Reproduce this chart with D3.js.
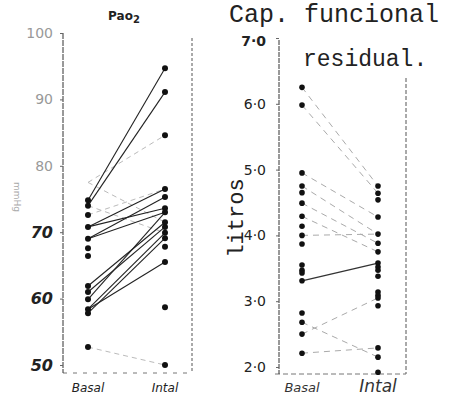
<!DOCTYPE html>
<html>
<head>
<meta charset="utf-8">
<script src="https://cdn.jsdelivr.net/npm/d3@7"></script>
<style>
  body { margin: 0; background: #fff; }
  svg { display: block; }
</style>
</head>
<body>
<div id="chart"></div>
<script>
// ---- data ----
var groups = ["Basal", "Intal"];

// Pao2 (mmHg)
var paoTicks = [100, 90, 80, 70, 60, 50];
var paoBasal = [74.8, 74.0, 72.6, 70.8, 69.0, 67.6, 66.4, 61.9, 61.0, 59.9, 58.4, 57.8, 52.7];
var paoIntal = [94.7, 91.1, 84.6, 76.5, 75.3, 73.6, 73.0, 71.5, 70.8, 69.9, 69.1, 67.8, 65.5, 58.7, 50.0];
var paoSolid = [[74.8, 94.7], [74.0, 91.1], [70.8, 76.5], [70.8, 73.6], [69.0, 75.3], [69.0, 73.0],
                [61.9, 71.5], [61.0, 70.8], [59.9, 73.0], [58.4, 69.9], [57.8, 69.1], [58.4, 65.5]];
var paoFaint = [[77.5, 84.6], [72.6, 76.5], [77.5, 71.5], [52.7, 50.0], [74.0, 69.9]];

// Capacidad funcional residual (litros)
var frcTicks = [7, 6, 5, 4, 3, 2];
var frcBasal = [6.25, 5.98, 4.95, 4.75, 4.65, 4.49, 4.29, 4.14, 4.0, 3.87, 3.55, 3.47, 3.43, 3.31, 2.82, 2.68, 2.5, 2.21];
var frcIntal = [4.75, 4.64, 4.54, 4.28, 4.02, 3.88, 3.75, 3.58, 3.52, 3.47, 3.38, 3.14, 3.09, 3.05, 2.93, 2.29, 2.15, 1.92];
var frcSolid = [[3.31, 3.58]];
var frcFaint = [[6.25, 4.75], [5.98, 4.64], [4.95, 4.28], [4.75, 4.02], [4.49, 3.88], [4.29, 3.75],
                [2.5, 3.05], [2.21, 2.29], [2.68, 2.15], [4.0, 4.02]];

var width = 452, height = 401;

var svg = d3.select("#chart")
  .append("svg")
    .attr("width", width)
    .attr("height", height);

// ---------- left panel: Pao2 ----------
var yL = d3.scaleLinear().domain([50, 100]).range([365, 33]);
var xL = d3.scalePoint().domain(groups).range([88, 165]);

var left = svg.append("g");

// frame (dotted, like the scan)
left.append("line").attr("x1", 192).attr("x2", 192).attr("y1", 38).attr("y2", 373)
  .style("stroke", "#555").style("stroke-width", 1).style("stroke-dasharray", "3,2");
left.append("line").attr("x1", 63).attr("x2", 192).attr("y1", 373).attr("y2", 373)
  .style("stroke", "#777").style("stroke-width", 1).style("stroke-dasharray", "4,6");

var axL = left.append("g")
  .attr("transform", "translate(63,0)")
  .call(d3.axisLeft(yL).tickValues(paoTicks).tickSize(3).tickPadding(7).tickFormat(d3.format("d")));
axL.select(".domain").attr("d", "M0,33V373").style("stroke", "#333").style("stroke-dasharray", "6,1");
axL.selectAll(".tick line").style("stroke", "#666");
axL.selectAll(".tick text")
  .style("font-family", "DejaVu Sans")
  .style("font-size", function(d) { return d >= 80 ? "14px" : "16px"; })
  .style("font-style", function(d) { return d >= 80 ? "normal" : "italic"; })
  .style("font-weight", function(d) { return d >= 80 ? "normal" : "bold"; })
  .style("fill", function(d) { return d >= 80 ? "#999" : "#222"; });

left.selectAll("line.faint")
  .data(paoFaint).enter().append("line")
  .attr("class", "faint")
  .attr("x1", xL("Basal")).attr("x2", xL("Intal"))
  .attr("y1", function(d) { return yL(d[0]); })
  .attr("y2", function(d) { return yL(d[1]); })
  .style("stroke", "#bbb").style("stroke-width", 1).style("stroke-dasharray", "5,4");

left.selectAll("line.solid")
  .data(paoSolid).enter().append("line")
  .attr("class", "solid")
  .attr("x1", xL("Basal")).attr("x2", xL("Intal"))
  .attr("y1", function(d) { return yL(d[0]); })
  .attr("y2", function(d) { return yL(d[1]); })
  .style("stroke", "#222").style("stroke-width", 1.1);

left.selectAll("circle.b")
  .data(paoBasal).enter().append("circle")
  .attr("class", "b")
  .attr("cx", xL("Basal")).attr("cy", function(d) { return yL(d); }).attr("r", 3)
  .style("fill", "#111");
left.selectAll("circle.i")
  .data(paoIntal).enter().append("circle")
  .attr("class", "i")
  .attr("cx", xL("Intal")).attr("cy", function(d) { return yL(d); }).attr("r", 3)
  .style("fill", "#111");

left.selectAll("text.cat")
  .data(groups).enter().append("text")
  .attr("class", "cat")
  .attr("x", function(d) { return xL(d); }).attr("y", 392)
  .attr("text-anchor", "middle")
  .text(function(d) { return d; })
  .style("font-family", "DejaVu Sans").style("font-style", "italic")
  .style("font-size", "12px").style("fill", "#222");

var t = left.append("text").attr("x", 124).attr("y", 20).attr("text-anchor", "middle")
  .style("font-family", "DejaVu Sans").style("font-size", "12px").style("font-weight", "bold").style("fill", "#222");
t.append("tspan").text("Pao");
t.append("tspan").attr("dy", 3).style("font-size", "10px").text("2");

left.append("text")
  .attr("transform", "translate(14,197) rotate(90)")
  .attr("text-anchor", "middle")
  .text("mmHg")
  .style("font-family", "DejaVu Sans").style("font-size", "9px").style("fill", "#aaa");

// ---------- right panel: CFR ----------
var yR = d3.scaleLinear().domain([2, 7]).range([367, 38]);
var xR = d3.scalePoint().domain(groups).range([302, 378]);

var right = svg.append("g");

right.append("line").attr("x1", 406).attr("x2", 406).attr("y1", 78).attr("y2", 374)
  .style("stroke", "#555").style("stroke-width", 1).style("stroke-dasharray", "4,2");
right.append("line").attr("x1", 275).attr("x2", 406).attr("y1", 374).attr("y2", 374)
  .style("stroke", "#777").style("stroke-width", 1).style("stroke-dasharray", "5,3");

var axR = right.append("g")
  .attr("transform", "translate(279,0)")
  .call(d3.axisLeft(yR).tickValues(frcTicks).tickSize(3).tickPadding(10)
    .tickFormat(function(d) { return d + "·0"; }));
axR.select(".domain").attr("d", "M0,40V374").style("stroke", "#333").style("stroke-dasharray", "5,1");
axR.selectAll(".tick line").style("stroke", "#666");
axR.selectAll(".tick text")
  .attr("dy", function(d) { return d === 7 ? "0.5em" : "0.32em"; })
  .style("font-family", "DejaVu Sans")
  .style("font-size", "14px")
  .style("font-weight", function(d) { return d === 7 ? "bold" : "normal"; })
  .style("fill", "#222");

right.selectAll("line.faint")
  .data(frcFaint).enter().append("line")
  .attr("class", "faint")
  .attr("x1", xR("Basal")).attr("x2", xR("Intal"))
  .attr("y1", function(d) { return yR(d[0]); })
  .attr("y2", function(d) { return yR(d[1]); })
  .style("stroke", "#aaa").style("stroke-width", 1).style("stroke-dasharray", "6,5");

right.selectAll("line.solid")
  .data(frcSolid).enter().append("line")
  .attr("class", "solid")
  .attr("x1", xR("Basal")).attr("x2", xR("Intal"))
  .attr("y1", function(d) { return yR(d[0]); })
  .attr("y2", function(d) { return yR(d[1]); })
  .style("stroke", "#333").style("stroke-width", 1.3);

right.selectAll("circle.b")
  .data(frcBasal).enter().append("circle")
  .attr("class", "b")
  .attr("cx", xR("Basal")).attr("cy", function(d) { return yR(d); }).attr("r", 2.8)
  .style("fill", "#111");
right.selectAll("circle.i")
  .data(frcIntal).enter().append("circle")
  .attr("class", "i")
  .attr("cx", xR("Intal")).attr("cy", function(d) { return yR(d); }).attr("r", 2.8)
  .style("fill", "#111");

right.selectAll("text.cat")
  .data(groups).enter().append("text")
  .attr("class", "cat")
  .attr("x", function(d) { return xR(d); }).attr("y", 392)
  .attr("text-anchor", "middle")
  .text(function(d) { return d; })
  .style("font-family", "DejaVu Sans").style("font-style", "italic")
  .style("font-size", function(d) { return d === "Intal" ? "17px" : "13px"; })
  .style("fill", "#333");

right.append("text").attr("x", 229).attr("y", 22)
  .text("Cap. funcional")
  .style("font-family", "Liberation Mono").style("font-size", "25px").style("fill", "#222");
right.append("text").attr("x", 303).attr("y", 66)
  .text("residual.")
  .style("font-family", "Liberation Mono").style("font-size", "23px").style("fill", "#222");

right.append("text")
  .attr("transform", "translate(243,218) rotate(-90)")
  .attr("text-anchor", "middle")
  .text("litros")
  .style("font-family", "Liberation Mono").style("font-size", "22px").style("fill", "#222");
</script>
</body>
</html>
